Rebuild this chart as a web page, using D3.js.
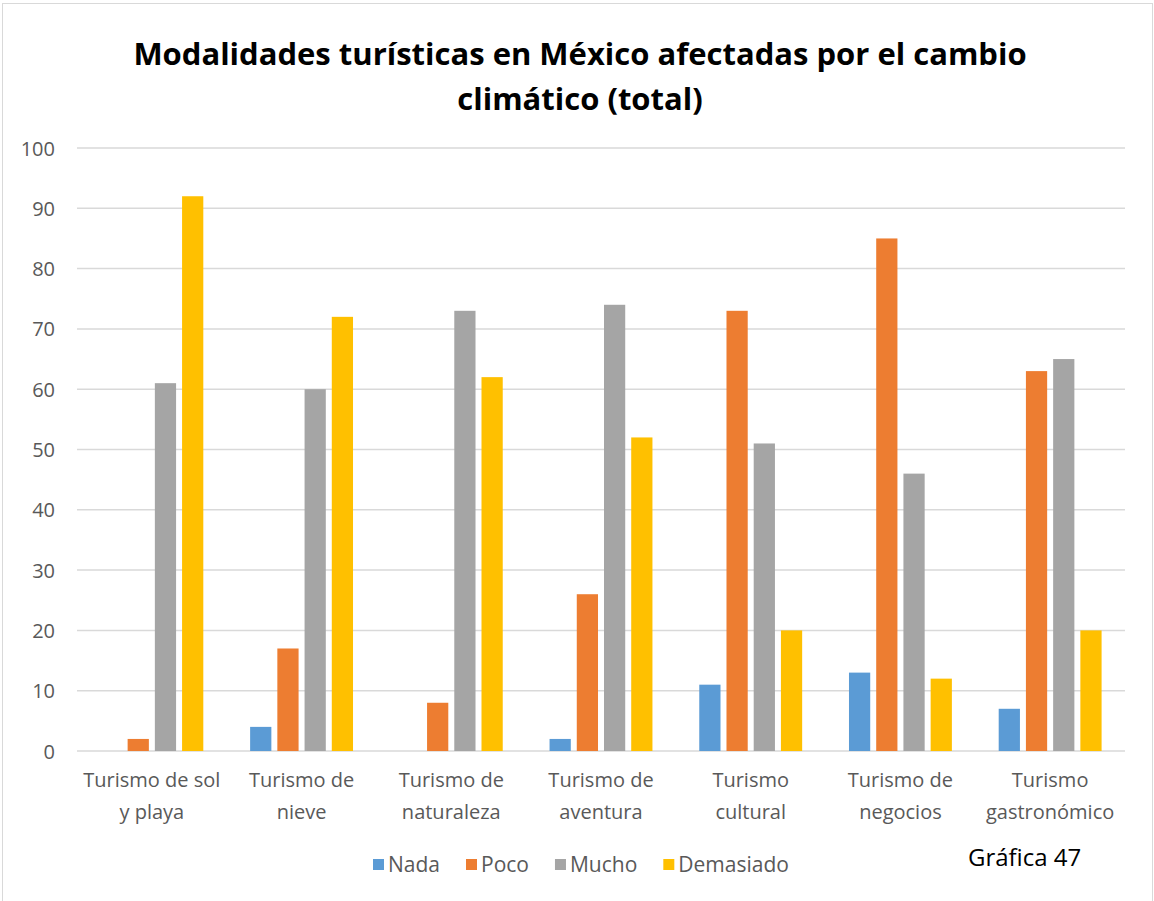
<!DOCTYPE html>
<html>
<head>
<meta charset="utf-8">
<title>Modalidades turísticas</title>
<style>
  body { margin: 0; background: #fff; }
  .grid line { stroke: #d9d9d9; stroke-width: 1.5px; }
  .tick text { fill: #595959; font: 20px "Open Sans", sans-serif; }
</style>
</head>
<body>
<div id="chart"></div>
<script src="https://d3js.org/d3.v7.min.js"></script>
<script>
  // datos
  var categories = [
    ["Turismo de sol", "y playa"],
    ["Turismo de", "nieve"],
    ["Turismo de", "naturaleza"],
    ["Turismo de", "aventura"],
    ["Turismo", "cultural"],
    ["Turismo de", "negocios"],
    ["Turismo", "gastronómico"]
  ];
  var series = ["Nada", "Poco", "Mucho", "Demasiado"];
  var colors = ["#5b9bd5", "#ed7d31", "#a5a5a5", "#ffc000"];
  var nada      = [0, 4, 0, 2, 11, 13, 7];
  var poco      = [2, 17, 8, 26, 73, 85, 63];
  var mucho     = [61, 60, 73, 74, 51, 46, 65];
  var demasiado = [92, 72, 62, 52, 20, 12, 20];
  var yTicks = [0, 10, 20, 30, 40, 50, 60, 70, 80, 90, 100];

  var values = [nada, poco, mucho, demasiado];

  var width = 1154, height = 901;
  var plotLeft = 77, plotRight = 1125, plotTop = 148, plotBottom = 751;

  var svg = d3.select("#chart").append("svg")
      .attr("width", width)
      .attr("height", height);

  // borde
  svg.append("rect")
      .attr("x", 2.5).attr("y", 3.5)
      .attr("width", 1150).attr("height", 905)
      .attr("fill", "#fff")
      .attr("stroke", "#d9d9d9");

  var x0 = d3.scaleBand()
      .domain(d3.range(categories.length))
      .range([plotLeft, plotRight])
      .padding(0);

  var x1 = d3.scaleBand()
      .domain(series)
      .range([0, x0.bandwidth()])
      .paddingInner(0.22)
      .paddingOuter(0.86);

  var y = d3.scaleLinear()
      .domain([0, 100])
      .range([plotBottom, plotTop]);

  // cuadrícula
  svg.append("g")
      .attr("class", "grid")
      .selectAll("line")
      .data(yTicks)
      .enter().append("line")
      .attr("x1", plotLeft).attr("x2", plotRight)
      .attr("y1", function(d) { return y(d); })
      .attr("y2", function(d) { return y(d); });

  // eje y
  var yAxis = svg.append("g")
      .attr("transform", "translate(" + (plotLeft - 22) + ",0)")
      .call(d3.axisLeft(y).tickValues(yTicks).tickSize(0).tickPadding(0));
  yAxis.select(".domain").remove();
  yAxis.selectAll(".tick text").attr("dy", "0.35em");

  // barras
  var groups = svg.selectAll(".cat")
      .data(categories)
      .enter().append("g")
      .attr("class", "cat")
      .attr("transform", function(d, i) { return "translate(" + x0(i) + ",0)"; });

  groups.selectAll("rect")
      .data(function(d, i) {
        return series.map(function(s, j) { return { s: s, j: j, v: values[j][i] }; });
      })
      .enter().append("rect")
      .attr("x", function(d) { return x1(d.s); })
      .attr("width", x1.bandwidth())
      .attr("y", function(d) { return y(d.v); })
      .attr("height", function(d) { return y(0) - y(d.v); })
      .attr("fill", function(d) { return colors[d.j]; });

  // etiquetas de categoría
  groups.append("text")
      .attr("x", x0.bandwidth() / 2)
      .attr("y", 787)
      .attr("text-anchor", "middle")
      .style("font", "20px 'Open Sans', sans-serif")
      .attr("fill", "#595959")
      .selectAll("tspan")
      .data(function(d) { return d; })
      .enter().append("tspan")
      .attr("x", x0.bandwidth() / 2)
      .attr("y", function(d, i) { return 787 + i * 32; })
      .text(function(d) { return d; });

  // título
  svg.append("text")
      .attr("x", 580)
      .attr("text-anchor", "middle")
      .style("font", "bold 31px 'Open Sans', sans-serif")
      .attr("fill", "#000")
      .selectAll("tspan")
      .data(["Modalidades turísticas en México afectadas por el cambio", "climático (total)"])
      .enter().append("tspan")
      .attr("x", 580)
      .attr("y", function(d, i) { return 65 + i * 45; })
      .text(function(d) { return d; });

  // leyenda
  var legend = svg.append("g").attr("transform", "translate(373,0)");
  var lx = 0;
  series.forEach(function(s, j) {
    legend.append("rect")
        .attr("x", lx).attr("y", 859)
        .attr("width", 11).attr("height", 11)
        .attr("fill", colors[j]);
    var t = legend.append("text")
        .attr("x", lx + 15).attr("y", 872)
        .style("font", "21px 'Open Sans', sans-serif")
        .attr("fill", "#595959")
        .text(s);
    lx += 15 + t.node().getComputedTextLength() + 26;
  });

  svg.append("text")
      .attr("x", 968).attr("y", 866)
      .style("font", "24px 'Open Sans', sans-serif")
      .attr("fill", "#000")
      .text("Gráfica 47");
</script>
</body>
</html>
